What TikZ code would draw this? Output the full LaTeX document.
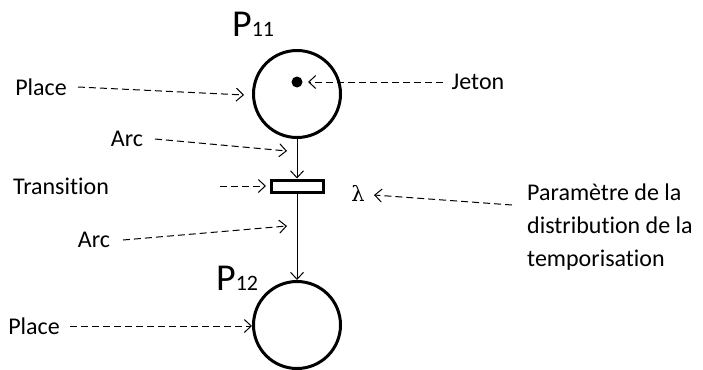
\documentclass[tikz,border=0pt]{standalone}
\usepackage{fontspec}
\setmainfont{Carlito}[Ligatures=NoCommon]
\newfontfamily\lamfont{DejaVu Serif}
\usetikzlibrary{arrows.meta}
\begin{document}
\begin{tikzpicture}[x=1pt,y=-1pt,
  place/.style={circle,draw,line width=3pt,minimum size=87pt,inner sep=0pt},
  trans/.style={draw,line width=3pt,minimum width=52pt,minimum height=12pt,inner sep=0pt},
  arcline/.style={line width=1pt,-{Straight Barb[length=7pt,width=13pt,line width=1pt]}},
  note/.style={line width=1pt,dash pattern=on 7pt off 4pt,-{Straight Barb[length=7pt,width=13pt,line width=1pt]}},
  lbl/.style={font=\fontsize{24}{28}\selectfont,inner sep=0pt},
  pname/.style={font=\fontsize{38}{40}\selectfont,inner sep=0pt,anchor=base west}
]
\useasboundingbox (0,0) rectangle (703,369);
\node[place] (p11) at (297,94) {};
\node[circle,fill,minimum size=11pt,inner sep=0pt] (jet) at (297,82) {};
\node[trans] (t) at (297,186) {};
\node[place] (p12) at (297,325) {};
\draw[arcline] (p11) -- (t);
\draw[arcline] (t) -- (p12);

\node[pname] (n11) at (232,37) {P\fontsize{22}{24}\selectfont 11};
\node[pname] (n12) at (216,290) {P\fontsize{22}{24}\selectfont 12};

\node[lbl] (place1) at (41,87) {Place};
\coordinate (place1s) at (78,87);
\coordinate (place1t) at (244,95);
\draw[note] (place1s) -- (place1t);

\node[lbl] (jeton) at (478,82) {Jeton};
\coordinate (jetons) at (443,82);
\coordinate (jetont) at (308,82);
\draw[note] (jetons) -- (jetont);

\node[lbl] (arc1) at (127,139) {Arc};
\coordinate (arc1s) at (155,139);
\coordinate (arc1t) at (287,151);
\draw[note] (arc1s) -- (arc1t);

\node[lbl] (transl) at (61,186) {Transition};
\coordinate (transs) at (220,186);
\coordinate (transt) at (266,186);
\draw[note] (transs) -- (transt);

\node[lbl] (arc2) at (94,240) {Arc};
\coordinate (arc2s) at (123,240);
\coordinate (arc2t) at (287,226);
\draw[note] (arc2s) -- (arc2t);

\node[lbl] (place2) at (34,326) {Place};
\coordinate (place2s) at (70,326);
\coordinate (place2t) at (252,326);
\draw[note] (place2s) -- (place2t);

\node[font=\lamfont\fontsize{21}{24}\selectfont,inner sep=0pt] (lam) at (358,193) {λ};
\node[lbl,font=\fontsize{24}{33}\selectfont,align=left,anchor=north west] (param) at (527,184) {Paramètre de la\\distribution de la\\temporisation};
\coordinate (params) at (512,205);
\coordinate (paramt) at (374,195);
\draw[note] (params) -- (paramt);
\end{tikzpicture}
\end{document}
